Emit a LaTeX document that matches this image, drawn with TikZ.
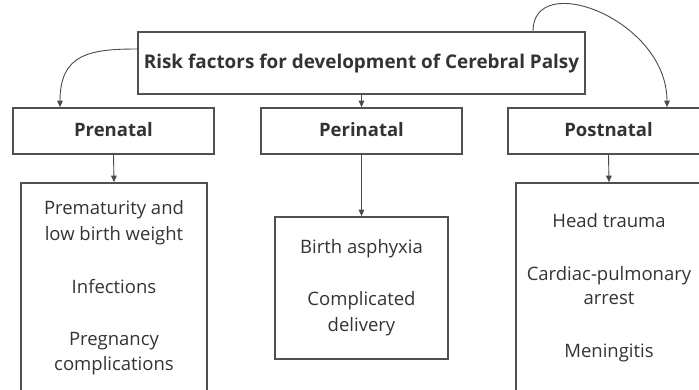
\documentclass[tikz,border=0pt]{standalone}
\usepackage{fontspec}
\setmainfont{Open Sans}
\usetikzlibrary{arrows.meta}

\definecolor{ink}{HTML}{333333}
\definecolor{frame}{HTML}{505050}
\definecolor{wire}{HTML}{4A4A4A}

\begin{document}
\begin{tikzpicture}[x=1pt,y=-1pt,
  box/.style={draw=frame,line width=1.6pt,inner sep=0pt},
  head/.style={font=\bfseries\fontsize{18.5}{22}\selectfont,text=ink,anchor=base,inner sep=0pt},
  item/.style={font=\fontsize{18.5}{25}\selectfont,text=ink,anchor=base,inner sep=0pt},
  link/.style={draw=wire,line width=0.9pt,-{Triangle[length=6.5pt,width=5.5pt]}},
]
\useasboundingbox (0,0) rectangle (699,390);
\clip (0,0) rectangle (699,390);

% boxes
\node[box,minimum width=447pt,minimum height=62pt] (title) at (361.5,63) {};
\node[box,minimum width=201pt,minimum height=46pt] (pre)  at (113.5,131) {};
\node[box,minimum width=201pt,minimum height=46pt] (peri) at (361.5,131) {};
\node[box,minimum width=201pt,minimum height=46pt] (post) at (608.5,131) {};
\node[box,minimum width=186pt,minimum height=237pt] (prelist)  at (114,301.5) {};
\node[box,minimum width=173pt,minimum height=142pt] (perilist) at (361.5,288) {};
\node[box,minimum width=186pt,minimum height=237pt] (postlist) at (609,301.5) {};

% headings
\node[head,font=\bfseries\fontsize{18.9}{22}\selectfont] (titletext) at (361.5,68.5) {Risk factors for development of Cerebral Palsy};
\node[head] (pretext)  at (113.5,136.5) {Prenatal};
\node[head] (peritext) at (361.5,136.5) {Perinatal};
\node[head] (posttext) at (608.5,136.5) {Postnatal};

% prenatal factors
\node[item] (p1a) at (114,215)   {Prematurity and};
\node[item] (p1b) at (114,240.5) {low birth weight};
\node[item] (p2)  at (114,293)   {Infections};
\node[item] (p3a) at (114,345)   {Pregnancy};
\node[item] (p3b) at (114,370.5) {complications};

% perinatal factors
\node[item] (r1)  at (361.5,254)   {Birth asphyxia};
\node[item] (r2a) at (361.5,305.5) {Complicated};
\node[item] (r2b) at (361.5,331)   {delivery};

% postnatal factors
\node[item] (s1)  at (609,227.5) {Head trauma};
\node[item] (s2a) at (609,280)   {Cardiac-pulmonary};
\node[item] (s2b) at (609,305)   {arrest};
\node[item] (s3)  at (609,357)   {Meningitis};

% connectors
\draw[link] ([yshift=14pt]title.west) .. controls +(-48,0) and +(0,-53) .. ([xshift=-53.5pt]pre.north);
\draw[link] (title.south) -- (peri.north);
\draw[link] ([xshift=171.5pt]title.north) .. controls +(0,-62) and +(0,-88) .. ([xshift=58.5pt]post.north);
\draw[link] (pre.south) -- (prelist.north);
\draw[link] (peri.south) -- (perilist.north);
\draw[link] (post.south) -- (postlist.north);
\end{tikzpicture}
\end{document}
